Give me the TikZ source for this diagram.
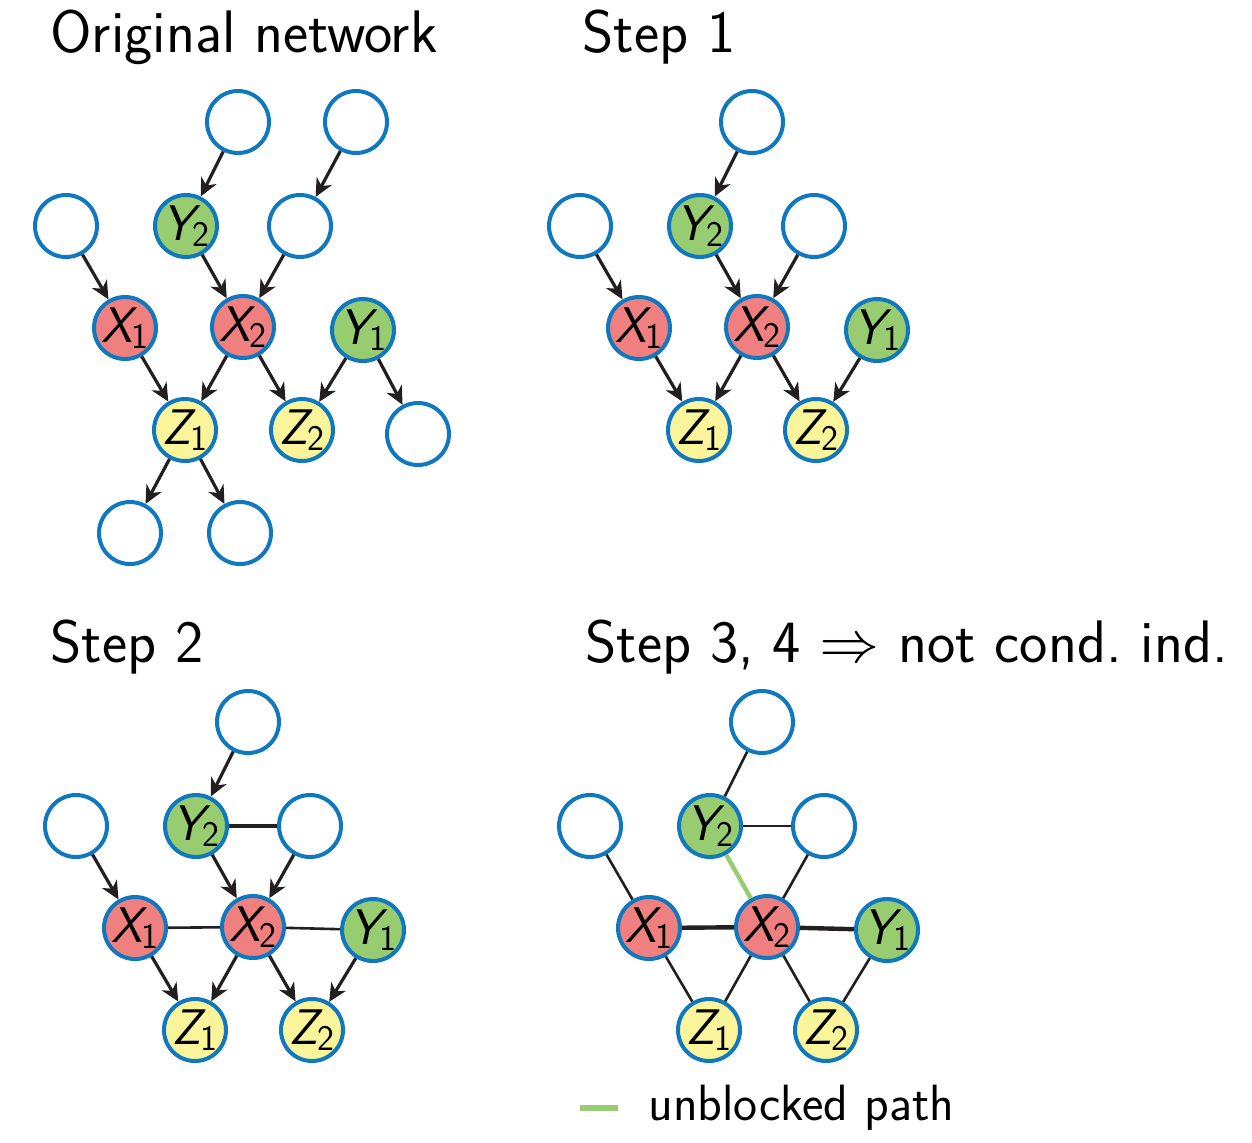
\documentclass[tikz,border=0pt]{standalone}
\usepackage{fontspec}
\usepackage{unicode-math}
\usetikzlibrary{arrows.meta}
\definecolor{nodeblue}{RGB}{16,120,190}
\definecolor{xred}{RGB}{240,128,128}
\definecolor{ygreen}{RGB}{152,204,112}
\definecolor{zyellow}{RGB}{250,245,155}
\definecolor{edgegray}{RGB}{35,31,32}
\newcommand{\nv}[2]{{\itshape #1}\kern-0.8pt\raisebox{-3pt}{\fontsize{18}{18}\selectfont #2}}
% shared part of all four graphs
\newcommand{\corenet}{%
    \node[var] (t1) at (238,122) {};
    \node[var] (e1) at (66,226) {};
    \node[var, fill=ygreen] (y2) at (186,226) {\nv{Y}{2}};
    \node[var] (e2) at (300,226) {};
    \node[var, fill=xred] (x1) at (125,328) {\nv{X}{1}};
    \node[var, fill=xred] (x2) at (243,327) {\nv{X}{2}};
    \node[var, fill=ygreen] (y1) at (363,330) {\nv{Y}{1}};
    \node[var, fill=zyellow] (z1) at (185,430) {\nv{Z}{1}};
    \node[var, fill=zyellow] (z2) at (302,430) {\nv{Z}{2}};
}

\begin{document}
\begin{tikzpicture}[x=0.5pt,y=-0.5pt,
    var/.style={circle, draw=nodeblue, line width=2pt, minimum size=31pt, inner sep=0pt,
        font=\sffamily\fontsize{25}{27}\selectfont},
    title/.style={anchor=base west, inner sep=0pt, font=\sffamily\fontsize{30}{34}\selectfont},
    arr/.style={-{Stealth[length=9pt,width=8.5pt,inset=2.8pt]}, line width=1.6pt, draw=edgegray},
    link/.style={line width=1.3pt, draw=edgegray},
    moral/.style={line width=2.2pt, draw=edgegray}]
\useasboundingbox (0,0) rectangle (1252,1142);

\node[title] (h1) at (50,52) {Original network};
\node[title] (h2) at (582,52) {Step 1};
\node[title] (h3) at (50,662) {Step 2};
\node[title] (h4) at (585,662) {Step 3, 4 $\Rightarrow$ not cond.\ ind.};

% original network
\begin{scope}[name prefix=a-]
    \corenet
    \node[var] (t2) at (356,122) {};
    \node[var] (e3) at (418,434) {};
    \node[var] (e4) at (130,533) {};
    \node[var] (e5) at (240,533) {};
    \draw[arr] (t1) -- (y2);
    \draw[arr] (t2) -- (e2);
    \draw[arr] (e1) -- (x1);
    \draw[arr] (y2) -- (x2);
    \draw[arr] (e2) -- (x2);
    \draw[arr] (x1) -- (z1);
    \draw[arr] (x2) -- (z1);
    \draw[arr] (x2) -- (z2);
    \draw[arr] (y1) -- (z2);
    \draw[arr] (y1) -- (e3);
    \draw[arr] (z1) -- (e4);
    \draw[arr] (z1) -- (e5);
\end{scope}

% step 1
\begin{scope}[shift={(514,0)}, name prefix=b-]
    \corenet
    \draw[arr] (t1) -- (y2);
    \draw[arr] (e1) -- (x1);
    \draw[arr] (y2) -- (x2);
    \draw[arr] (e2) -- (x2);
    \draw[arr] (x1) -- (z1);
    \draw[arr] (x2) -- (z1);
    \draw[arr] (x2) -- (z2);
    \draw[arr] (y1) -- (z2);
\end{scope}

% step 2
\begin{scope}[shift={(10,600)}, name prefix=c-]
    \corenet
    \draw[arr] (t1) -- (y2);
    \draw[arr] (e1) -- (x1);
    \draw[arr] (y2) -- (x2);
    \draw[arr] (e2) -- (x2);
    \draw[arr] (x1) -- (z1);
    \draw[arr] (x2) -- (z1);
    \draw[arr] (x2) -- (z2);
    \draw[arr] (y1) -- (z2);
    \draw[moral] (y2) -- (e2);
    \draw[link] (x1) -- (x2);
    \draw[link] (x2) -- (y1);
\end{scope}

% step 3, 4
\begin{scope}[shift={(524,600)}, name prefix=d-]
    \corenet
    \draw[link] (t1) -- (y2);
    \draw[link] (e1) -- (x1);
    \draw[link] (e2) -- (x2);
    \draw[link] (x1) -- (z1);
    \draw[link] (x2) -- (z1);
    \draw[link] (x2) -- (z2);
    \draw[link] (y1) -- (z2);
    \draw[link] (y2) -- (e2);
    \draw[moral] (x1) -- (x2);
    \draw[moral] (x2) -- (y1);
    \draw[line width=2.2pt, draw=ygreen] (y2) -- (x2);
\end{scope}

% legend
\coordinate (ls) at (580,1108);
\coordinate (le) at (618,1108);
\draw[line width=3pt, draw=ygreen] (ls) -- (le);
\node[title, font=\sffamily\fontsize{25.5}{29}\selectfont] (lt) at (648,1120) {unblocked path};
\end{tikzpicture}
\end{document}
